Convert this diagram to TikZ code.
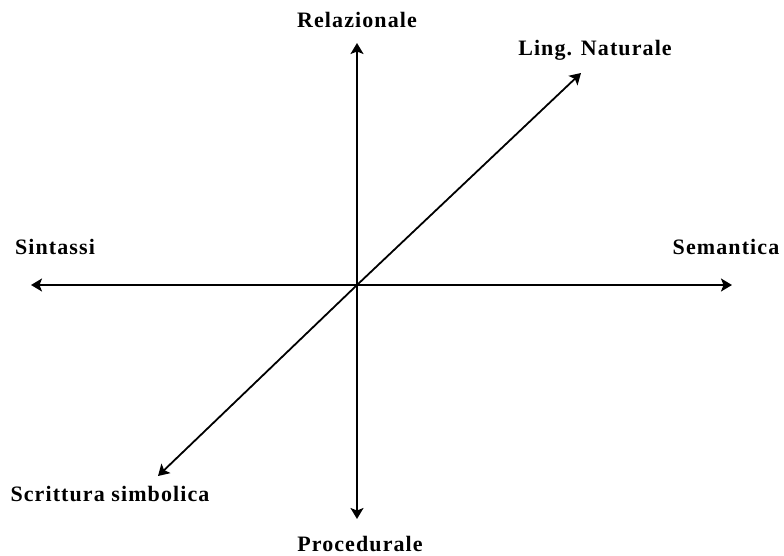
\documentclass[tikz,border=0pt]{standalone}
\usepackage{fontspec}
\setmainfont{Liberation Serif}
\newfontfamily\lblfont[LetterSpace=5]{Liberation Serif}
\usetikzlibrary{arrows.meta}
\begin{document}
\begin{tikzpicture}[x=1pt,y=-1pt,
  axis/.style={line width=1.8pt,-{Stealth[length=11pt,width=13pt,inset=2.5pt]}},
  lbl/.style={font=\lblfont\fontsize{22}{26}\selectfont\bfseries, inner sep=0pt}]
\useasboundingbox (0,0) rectangle (784,555);
\coordinate (O) at (357,285);
\coordinate (U) at (357,43);
\coordinate (D) at (357,519);
\coordinate (L) at (31,285);
\coordinate (R) at (732,285);
\coordinate (NE) at (581,73);
\coordinate (SW) at (158,476);
\draw[axis] (O) -- (U);
\draw[axis] (O) -- (D);
\draw[axis] (O) -- (L);
\draw[axis] (O) -- (R);
\draw[axis] (O) -- (NE);
\draw[axis] (O) -- (SW);
\node[lbl] (rel) at (357,20) {Relazionale};
\node[lbl] (ling) at (595,50) {Ling. Naturale};
\node[lbl] (sin) at (55,247) {Sintassi};
\node[lbl] (sem) at (726,247) {Semantica};
\node[lbl] (scr) at (110,494) {Scrittura simbolica};
\node[lbl] (pro) at (360,544) {Procedurale};
\end{tikzpicture}
\end{document}
